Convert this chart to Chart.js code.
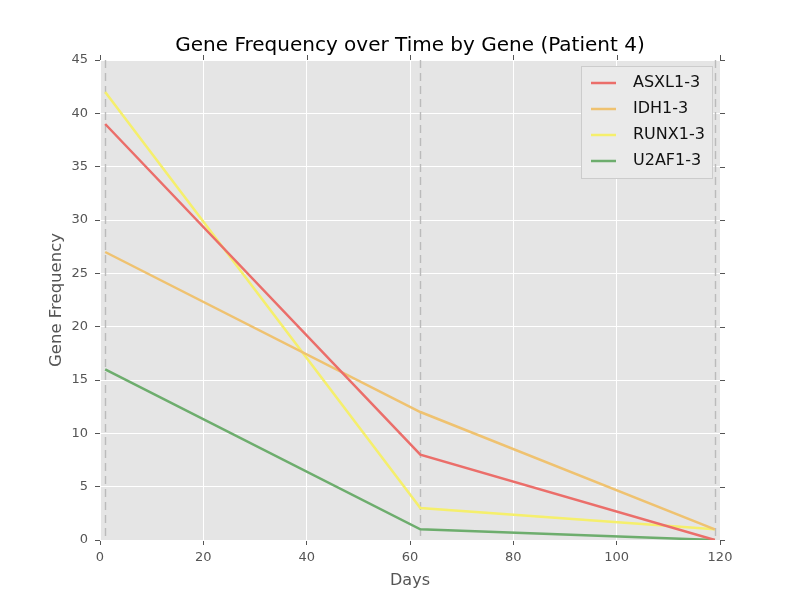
<!DOCTYPE html>
<html><head><meta charset="utf-8">
<script src="https://cdn.jsdelivr.net/npm/chart.js@4/dist/chart.umd.min.js"></script>
<style>html,body{margin:0;padding:0;background:#fff}#wrap{width:800px;height:600px}</style>
</head><body><div id="wrap"><canvas id="c" width="800" height="600"></canvas></div>
<script>
const days = [1, 62, 119];
const geneNames = ['ASXL1-3', 'IDH1-3', 'RUNX1-3', 'U2AF1-3'];
const asxl1 = [39, 8, 0];
const idh1 = [27, 12, 1];
const runx1 = [42, 3, 1];
const u2af1 = [16, 1, 0];
const seriesColors = ['#EB6E6A', '#EFC270', '#F5EF6C', '#6DAD6D'];
const xTicks = [0, 20, 40, 60, 80, 100, 120];
const yTicks = [0, 5, 10, 15, 20, 25, 30, 35, 40, 45];
const chartTitle = 'Gene Frequency over Time by Gene (Patient 4)';

const seriesValues = [asxl1, idh1, runx1, u2af1];
const datasets = seriesValues.map((vals, i) => ({
  label: geneNames[i],
  data: days.map((d, j) => ({x: d, y: vals[j]})),
  borderColor: seriesColors[i],
  backgroundColor: seriesColors[i],
  borderWidth: 2.5,
  pointRadius: 0,
  showLine: true,
  tension: 0
}));

const FONT = 'DejaVu Sans';

const extras = {
  id: 'extras',
  beforeDraw(chart) {
    const {ctx, chartArea: a} = chart;
    ctx.save();
    ctx.fillStyle = '#E5E5E5';
    ctx.fillRect(a.left, a.top, a.right - a.left, a.bottom - a.top);
    ctx.restore();
  },
  beforeDatasetsDraw(chart) {
    const {ctx, chartArea: a, scales: {x, y}} = chart;
    ctx.save();
    ctx.strokeStyle = '#BBBBBB';
    ctx.lineWidth = 1.4;
    ctx.setLineDash([8, 5]);
    days.forEach(d => {
      const px = Math.round(x.getPixelForValue(d)) + 0.5;
      ctx.beginPath();
      ctx.moveTo(px, y.getPixelForValue(45));
      ctx.lineTo(px, y.getPixelForValue(0));
      ctx.stroke();
    });
    ctx.restore();
  },
  afterDraw(chart) {
    const {ctx, chartArea: a, scales: {x, y}} = chart;
    ctx.save();
    // title
    ctx.fillStyle = '#000';
    ctx.font = '20px "' + FONT + '"';
    ctx.textAlign = 'center';
    ctx.textBaseline = 'middle';
    ctx.fillText(chartTitle, (a.left + a.right) / 2, 46);
    // top & right ticks
    ctx.strokeStyle = '#555';
    ctx.lineWidth = 1;
    xTicks.forEach(t => {
      const px = Math.round(x.getPixelForValue(t)) + 0.5;
      ctx.beginPath(); ctx.moveTo(px, a.top); ctx.lineTo(px, a.top - 5); ctx.stroke();
    });
    yTicks.forEach(t => {
      const py = Math.round(y.getPixelForValue(t)) + 0.5;
      ctx.beginPath(); ctx.moveTo(a.right, py); ctx.lineTo(a.right + 5, py); ctx.stroke();
    });
    // legend
    const lx = 581, ly = 66, lw = 131, lh = 112;
    ctx.fillStyle = '#EAEAEA';
    ctx.fillRect(lx, ly, lw, lh);
    ctx.strokeStyle = '#CCCCCC';
    ctx.lineWidth = 1;
    ctx.strokeRect(lx + 0.5, ly + 0.5, lw, lh);
    ctx.font = '16px "' + FONT + '"';
    ctx.textBaseline = 'middle';
    ctx.textAlign = 'left';
    chart.data.datasets.forEach((ds, i) => {
      const cy = ly + 17 + i * 26;
      ctx.strokeStyle = ds.borderColor;
      ctx.lineWidth = 2.5;
      ctx.beginPath(); ctx.moveTo(591, cy); ctx.lineTo(616, cy); ctx.stroke();
      ctx.fillStyle = '#111';
      ctx.fillText(ds.label, 633, cy);
    });
    ctx.restore();
  }
};

new Chart(document.getElementById('c'), {
  type: 'scatter',
  data: {datasets},
  options: {
    responsive: false,
    animation: false,
    devicePixelRatio: 1,
    layout: {padding: {left: 0, right: 80, top: 60, bottom: 0}},
    plugins: {
      legend: {display: false},
      tooltip: {enabled: false},
      title: {display: false}
    },
    scales: {
      x: {
        type: 'linear', min: 0, max: 120,
        afterFit(s) { s.height = 60; },
        afterBuildTicks(s) { s.ticks = xTicks.map(v => ({value: v})); },
        grid: {color: '#FFFFFF', lineWidth: 1, tickColor: '#555', tickLength: 5},
        border: {display: false},
        ticks: {color: '#555', font: {family: FONT, size: 13}, padding: 5, maxRotation: 0},
        title: {display: true, text: 'Days', color: '#555', font: {family: FONT, size: 16}, padding: {top: 0, bottom: 10}}
      },
      y: {
        type: 'linear', min: 0, max: 45,
        afterFit(s) { s.width = 100; },
        afterBuildTicks(s) { s.ticks = yTicks.map(v => ({value: v})); },
        grid: {color: '#FFFFFF', lineWidth: 1, tickColor: '#555', tickLength: 5},
        border: {display: false},
        ticks: {color: '#555', font: {family: FONT, size: 13}, padding: 7},
        title: {display: true, text: 'Gene Frequency', color: '#555', font: {family: FONT, size: 16.5}, padding: {top: 47, bottom: 0}}
      }
    }
  },
  plugins: [extras]
});
</script>
</body></html>
